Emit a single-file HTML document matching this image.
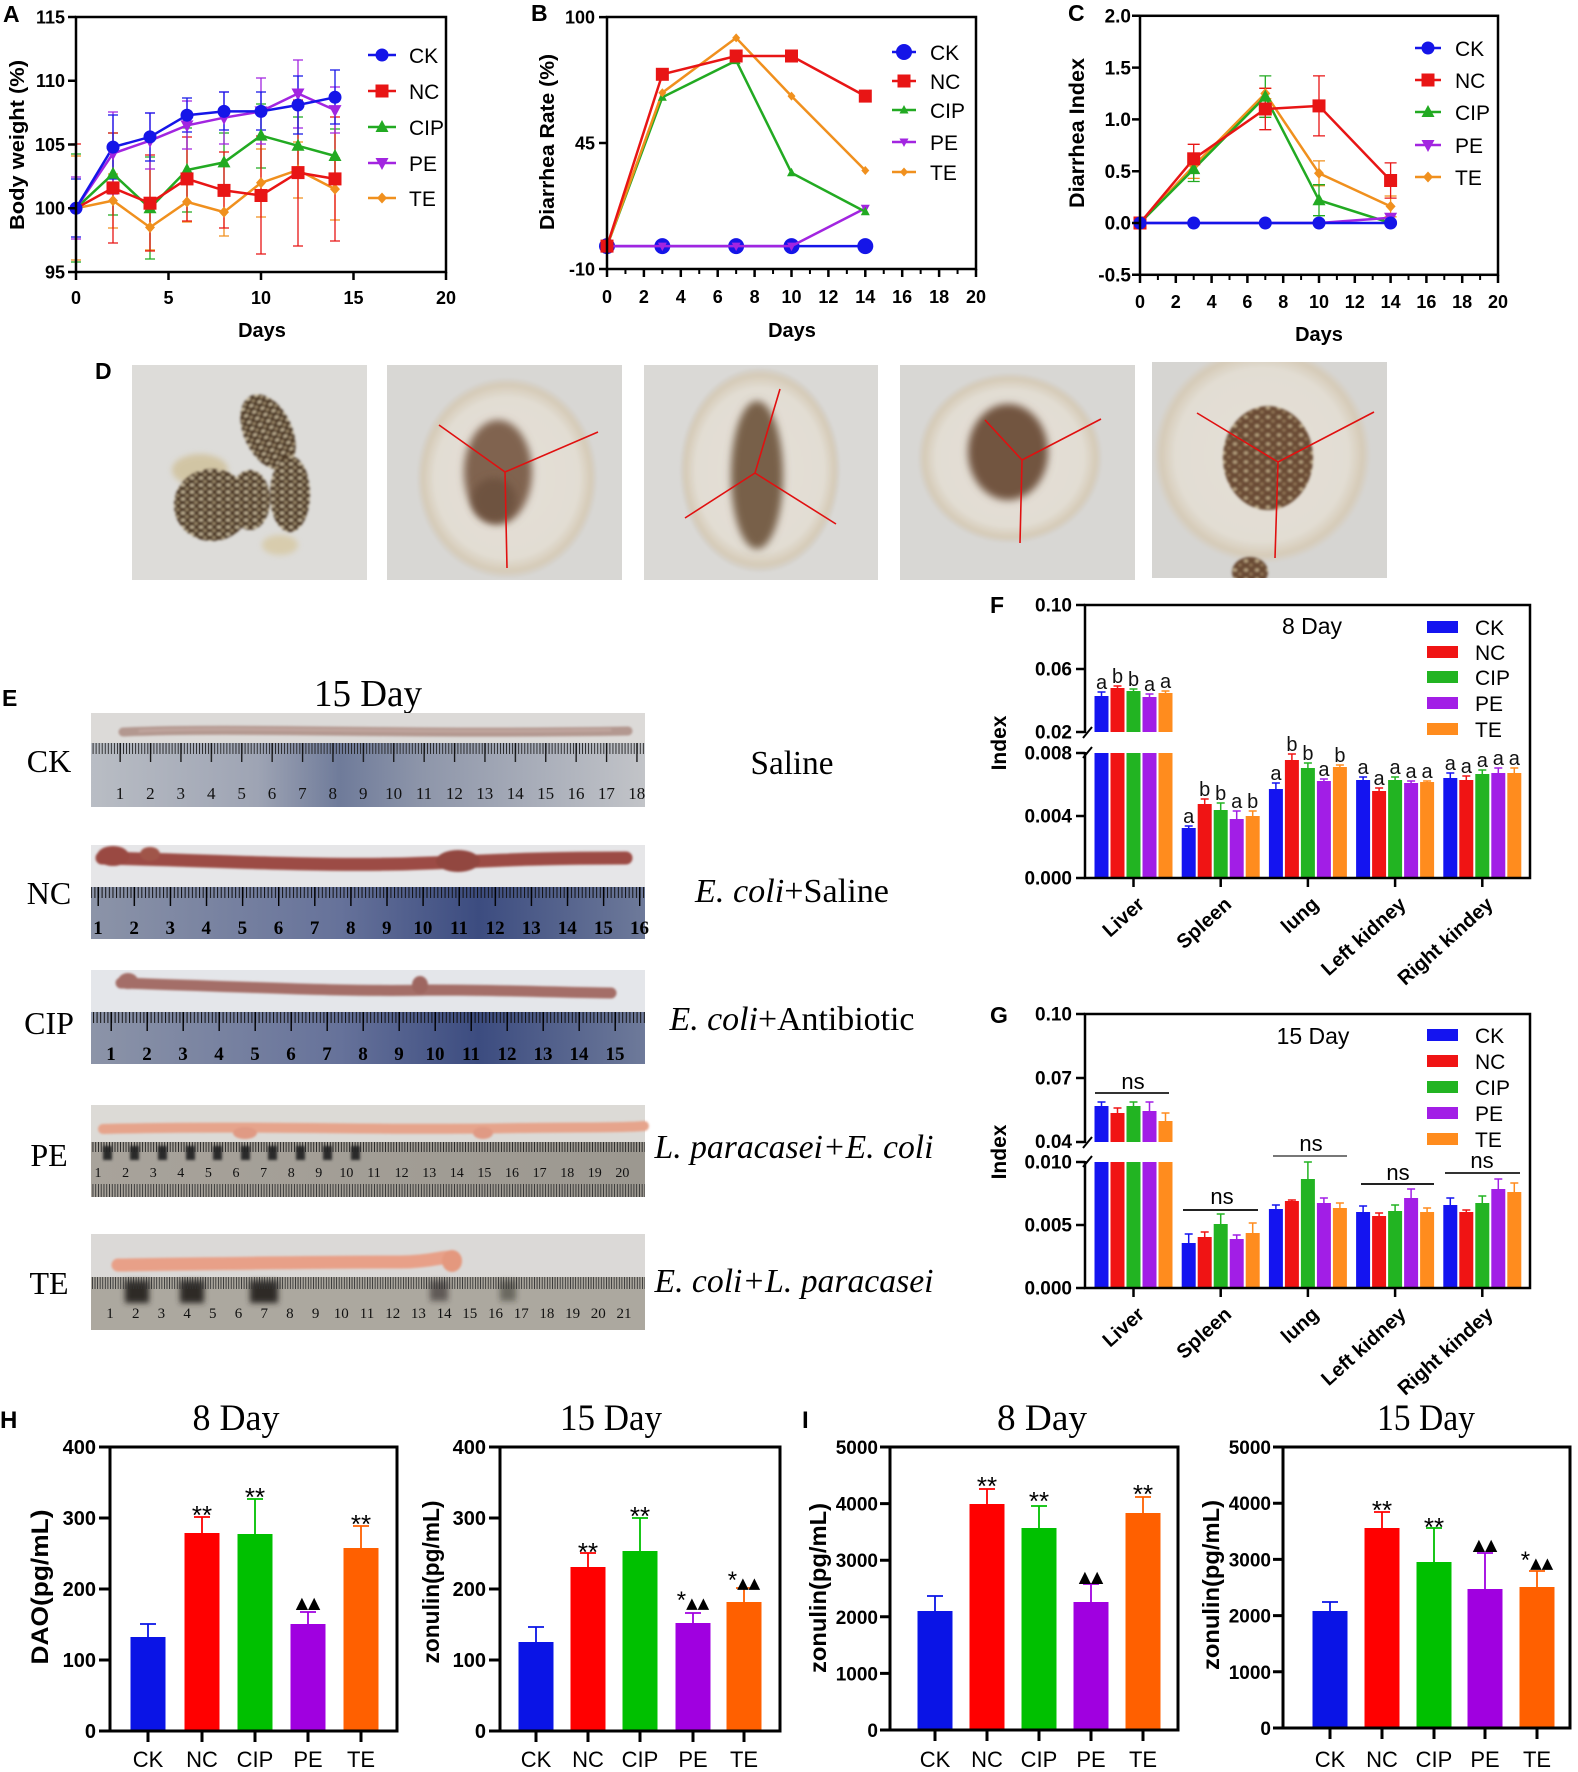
<!DOCTYPE html>
<html><head><meta charset="utf-8">
<style>
html,body{margin:0;padding:0;background:#fff;}
svg{display:block;}
.t{font-family:"Liberation Sans",Arial,sans-serif;}
.b{font-weight:bold;}
.s{font-family:"Liberation Serif","Times New Roman",serif;}
.d{font-family:"DejaVu Sans",sans-serif;}
</style></head>
<body>
<svg width="1578" height="1772" viewBox="0 0 1578 1772" xmlns="http://www.w3.org/2000/svg">
<defs>
<g id="mCK"><circle r="6.5" fill="#1515e8"/></g>
<g id="mCKb"><circle r="8" fill="#1515e8"/></g>
<g id="mNC"><rect x="-6.5" y="-6.5" width="13" height="13" fill="#e81515"/></g>
<g id="mCIP"><polygon points="0,-7 6.5,5 -6.5,5" fill="#22aa22"/></g>
<g id="mPE"><polygon points="0,7 6.5,-5 -6.5,-5" fill="#a225e0"/></g>
<g id="mTE"><polygon points="0,-5.5 5,0 0,5.5 -5,0" fill="#f0901e"/></g>
<g id="mCIPs"><polygon points="0,-5 4.5,3.5 -4.5,3.5" fill="#22aa22"/></g>
<g id="mPEs"><polygon points="0,5 4.5,-3.5 -4.5,-3.5" fill="#a225e0"/></g>
<g id="mTEs"><polygon points="0,-4.5 4,0 0,4.5 -4,0" fill="#f0901e"/></g>
<filter id="bl" x="-30%" y="-30%" width="160%" height="160%"><feGaussianBlur stdDeviation="3"/></filter>
<filter id="bl2" x="-20%" y="-20%" width="140%" height="140%"><feGaussianBlur stdDeviation="1.2"/></filter>
<filter id="bl4" x="-20%" y="-20%" width="140%" height="140%"><feGaussianBlur stdDeviation="4"/></filter>
<filter id="blU" filterUnits="userSpaceOnUse" x="0" y="0" width="1578" height="1772"><feGaussianBlur stdDeviation="1"/></filter>
<pattern id="spk" width="9" height="7" patternUnits="userSpaceOnUse"><rect width="9" height="7" fill="#4a3422"/><ellipse cx="3" cy="2" rx="2.2" ry="1.3" fill="#d8c9a8"/><ellipse cx="7" cy="5.5" rx="1.6" ry="1" fill="#c4b08a"/></pattern>
<pattern id="spk2" width="11" height="9" patternUnits="userSpaceOnUse"><rect width="11" height="9" fill="#6a4c34"/><ellipse cx="3" cy="3" rx="2" ry="1.4" fill="#c9b48e"/><ellipse cx="8" cy="7" rx="1.5" ry="1" fill="#a88c68"/></pattern>
<pattern id="mm1" x="120" y="743" width="3.04" height="64" patternUnits="userSpaceOnUse"><rect width="0.9" height="11" fill="#222"/></pattern>
<pattern id="cm1" x="119.5" y="743" width="30.4" height="64" patternUnits="userSpaceOnUse"><rect width="1.3" height="19" fill="#111"/></pattern>
<pattern id="mm2" x="98" y="887" width="3.61" height="52" patternUnits="userSpaceOnUse"><rect width="1" height="11" fill="#111"/></pattern>
<pattern id="cm2" x="97.5" y="887" width="36.1" height="52" patternUnits="userSpaceOnUse"><rect width="1.4" height="19" fill="#000"/></pattern>
<pattern id="mm3" x="111" y="1012" width="3.6" height="52" patternUnits="userSpaceOnUse"><rect width="1" height="11" fill="#111"/></pattern>
<pattern id="cm3" x="110.5" y="1012" width="36" height="52" patternUnits="userSpaceOnUse"><rect width="1.4" height="19" fill="#000"/></pattern>
<pattern id="mm4" x="98" y="1142" width="2.76" height="55" patternUnits="userSpaceOnUse"><rect width="0.9" height="10" fill="#222"/><rect y="42" width="0.9" height="13" fill="#333"/></pattern>
<pattern id="mm5" x="110" y="1277" width="2.57" height="53" patternUnits="userSpaceOnUse"><rect width="0.9" height="12" fill="#333"/></pattern>
<linearGradient id="r1" x1="0" x2="1" y1="0" y2="0"><stop offset="0" stop-color="#b9bdc4"/><stop offset="0.3" stop-color="#9ea4b4"/><stop offset="0.45" stop-color="#6f7b9a"/><stop offset="0.6" stop-color="#8e96aa"/><stop offset="1" stop-color="#c2c4c8"/></linearGradient>
<linearGradient id="r2" x1="0" x2="1" y1="0" y2="0"><stop offset="0" stop-color="#8c94a8"/><stop offset="0.45" stop-color="#66729a"/><stop offset="0.7" stop-color="#3c4c80"/><stop offset="1" stop-color="#6e7a9a"/></linearGradient>
<linearGradient id="r4" x1="0" x2="1" y1="0" y2="0"><stop offset="0" stop-color="#a8a39b"/><stop offset="1" stop-color="#9c9890"/></linearGradient>
<radialGradient id="halo" cx="0.5" cy="0.5" r="0.5"><stop offset="0" stop-color="#e4dfd6"/><stop offset="0.8" stop-color="#e2ddd3"/><stop offset="0.93" stop-color="#d6cbb8"/><stop offset="1" stop-color="#d6d4d0"/></radialGradient>
</defs>
<rect width="1578" height="1772" fill="#fff"/>

<!-- ================= PANEL A ================= -->
<g class="t">
<text class="b" x="3" y="22" font-size="23">A</text>
<g fill="none" stroke-width="1.3">
<path stroke="#f0901e" d="M76 156V260M71 156H81M71 260H81M113 174V228M108 174H118M108 228H118M150 204V250M145 204H155M145 250H155M187 182V222M182 182H192M182 222H192M224 188V236M219 188H229M219 236H229M261 149V217M256 149H266M256 217H266M298 142V198M293 142H303M293 198H303M335 158V220M330 158H340M330 220H340"/>
<path stroke="#22aa22" d="M76 154V262M71 154H81M71 262H81M113 133V215M108 133H118M108 215H118M150 157V259M145 157H155M145 259H155M187 128V212M182 128H192M182 212H192M224 133V191M219 133H229M219 191H229M261 104V168M256 104H266M256 168H266M298 117V175M293 117H303M293 175H303M335 129V183M330 129H340M330 183H340"/>
<path stroke="#e81515" d="M76 144V272M71 144H81M113 133V243M108 133H118M108 243H118M150 155V251M145 155H155M145 251H155M187 137V221M182 137H192M182 221H192M224 152V228M219 152H229M219 228H229M261 136V254M256 136H266M256 254H266M298 100V246M293 100H303M293 246H303M335 117V241M330 117H340M330 241H340"/>
<path stroke="#a225e0" d="M76 177V239M71 177H81M71 239H81M113 112V194M108 112H118M108 194H118M150 113V169M145 113H155M145 169H155M187 101V149M182 101H192M182 149H192M224 92V144M219 92H229M219 144H229M261 78V144M256 78H266M256 144H266M298 60V128M293 60H303M293 128H303M335 87V133M330 87H340M330 133H340"/>
<path stroke="#1515e8" d="M76 179V237M71 179H81M71 237H81M113 115V179M108 115H118M108 179H118M150 113V161M145 113H155M145 161H155M187 98V132M182 98H192M182 132H192M224 92V130M219 92H229M219 130H229M261 92V130M256 92H266M256 130H266M298 76V134M293 76H303M293 134H303M335 70V124M330 70H340M330 124H340"/>
</g>
<g fill="none" stroke-width="2.5">
<polyline stroke="#f0901e" points="76,208.3 113,200.6 150,227.4 187,201.9 224,212.1 261,182.8 298,170 335,189.1"/>
<polyline stroke="#22aa22" points="76,208.3 113,173.8 150,208.3 187,170 224,162.4 261,135.6 298,145.8 335,156"/>
<polyline stroke="#e81515" points="76,208.3 113,187.9 150,203.2 187,178.9 224,190.4 261,195.5 298,172.6 335,178.9"/>
<polyline stroke="#a225e0" points="76,208.3 113,153.4 150,140.7 187,125.4 224,117.7 261,111.4 298,93.5 335,110.1"/>
<polyline stroke="#1515e8" points="76,208.3 113,147.1 150,136.9 187,115.2 224,111.4 261,111.4 298,105 335,97.3"/>
</g>
<use href="#mTE" x="113" y="200.6"/><use href="#mTE" x="150" y="227.4"/><use href="#mTE" x="187" y="201.9"/><use href="#mTE" x="224" y="212.1"/><use href="#mTE" x="261" y="182.8"/><use href="#mTE" x="298" y="170"/><use href="#mTE" x="335" y="189.1"/>
<use href="#mCIP" x="113" y="173.8"/><use href="#mCIP" x="150" y="208.3"/><use href="#mCIP" x="187" y="170"/><use href="#mCIP" x="224" y="162.4"/><use href="#mCIP" x="261" y="135.6"/><use href="#mCIP" x="298" y="145.8"/><use href="#mCIP" x="335" y="156"/>
<use href="#mNC" x="113" y="187.9"/><use href="#mNC" x="150" y="203.2"/><use href="#mNC" x="187" y="178.9"/><use href="#mNC" x="224" y="190.4"/><use href="#mNC" x="261" y="195.5"/><use href="#mNC" x="298" y="172.6"/><use href="#mNC" x="335" y="178.9"/>
<use href="#mPE" x="113" y="153.4"/><use href="#mPE" x="150" y="140.7"/><use href="#mPE" x="187" y="125.4"/><use href="#mPE" x="224" y="117.7"/><use href="#mPE" x="261" y="111.4"/><use href="#mPE" x="298" y="93.5"/><use href="#mPE" x="335" y="110.1"/>
<use href="#mCK" x="76" y="208.3"/><use href="#mCK" x="113" y="147.1"/><use href="#mCK" x="150" y="136.9"/><use href="#mCK" x="187" y="115.2"/><use href="#mCK" x="224" y="111.4"/><use href="#mCK" x="261" y="111.4"/><use href="#mCK" x="298" y="105"/><use href="#mCK" x="335" y="97.3"/>
<rect x="76" y="17" width="370" height="255" fill="none" stroke="#000" stroke-width="2.5"/>
<path stroke="#000" stroke-width="2.5" d="M68 17H76M68 80.75H76M68 144.5H76M68 208.25H76M68 272H76M76 272V280M168.5 272V280M261 272V280M353.5 272V280M446 272V280"/>
<g class="b" font-size="18" text-anchor="end"><text x="65" y="23.5">115</text><text x="65" y="87">110</text><text x="65" y="151">105</text><text x="65" y="214.5">100</text><text x="65" y="278.5">95</text></g>
<g class="b" font-size="18" text-anchor="middle"><text x="76" y="304">0</text><text x="168.5" y="304">5</text><text x="261" y="304">10</text><text x="353.5" y="304">15</text><text x="446" y="304">20</text></g>
<text class="b" x="262" y="337" font-size="20" text-anchor="middle">Days</text>
<text class="b" transform="translate(17,145) rotate(-90)" x="0" y="7" font-size="20" text-anchor="middle" textLength="170" lengthAdjust="spacingAndGlyphs">Body weight (%)</text>
<g stroke-width="2.5"><line x1="368" y1="55" x2="396" y2="55" stroke="#1515e8"/><line x1="368" y1="91" x2="396" y2="91" stroke="#e81515"/><line x1="368" y1="127" x2="396" y2="127" stroke="#22aa22"/><line x1="368" y1="163" x2="396" y2="163" stroke="#a225e0"/><line x1="368" y1="198" x2="396" y2="198" stroke="#f0901e"/></g>
<use href="#mCK" x="382" y="55"/><use href="#mNC" x="382" y="91"/><use href="#mCIP" x="382" y="127"/><use href="#mPE" x="382" y="163"/><use href="#mTE" x="382" y="198"/>
<g font-size="21"><text x="409" y="63">CK</text><text x="409" y="99">NC</text><text x="409" y="135">CIP</text><text x="409" y="171">PE</text><text x="409" y="206">TE</text></g>
</g>

<!-- ================= PANEL B ================= -->
<g class="t">
<text class="b" x="531" y="21" font-size="23">B</text>
<g fill="none" stroke-width="2.5">
<polyline stroke="#1515e8" points="607,246.1 662.35,246.1 736.15,246.1 791.5,246.1 865.3,246.1"/>
</g>
<use href="#mCKb" x="607" y="246.1"/><use href="#mCKb" x="662.35" y="246.1"/><use href="#mCKb" x="736.15" y="246.1"/><use href="#mCKb" x="791.5" y="246.1"/><use href="#mCKb" x="865.3" y="246.1"/>
<g fill="none" stroke-width="2.5">
<polyline stroke="#a225e0" points="607,246.1 662.35,246.1 736.15,246.1 791.5,246.1 865.3,208.3"/>
<polyline stroke="#22aa22" points="607,246.1 662.35,97.25 736.15,60.6 791.5,172.8 865.3,211.75"/>
<polyline stroke="#f0901e" points="607,246.1 662.35,92.7 736.15,37.9 791.5,96.1 865.3,170.5"/>
<polyline stroke="#e81515" points="607,246.1 662.35,74.3 736.15,56 791.5,56 865.3,96.1"/>
</g>
<use href="#mPEs" x="662.35" y="246.1"/><use href="#mPEs" x="736.15" y="246.1"/><use href="#mPEs" x="791.5" y="246.1"/><use href="#mPEs" x="865.3" y="208.3"/>
<use href="#mCIPs" x="662.35" y="97.25"/><use href="#mCIPs" x="736.15" y="60.6"/><use href="#mCIPs" x="791.5" y="172.8"/><use href="#mCIPs" x="865.3" y="211.75"/>
<use href="#mTEs" x="662.35" y="92.7"/><use href="#mTEs" x="736.15" y="37.9"/><use href="#mTEs" x="791.5" y="96.1"/><use href="#mTEs" x="865.3" y="170.5"/>
<use href="#mNC" x="607" y="246.1"/><use href="#mNC" x="662.35" y="74.3"/><use href="#mNC" x="736.15" y="56"/><use href="#mNC" x="791.5" y="56"/><use href="#mNC" x="865.3" y="96.1"/>
<rect x="607" y="17" width="369" height="252" fill="none" stroke="#000" stroke-width="2.5"/>
<path stroke="#000" stroke-width="2.5" d="M599 17.1H607M599 143H607M599 269H607M607 269V277M643.9 269V277M680.8 269V277M717.7 269V277M754.6 269V277M791.5 269V277M828.4 269V277M865.3 269V277M902.2 269V277M939.1 269V277M976 269V277"/>
<path stroke="#000" stroke-width="2" d="M625.45 269V274M662.35 269V274M699.25 269V274M736.15 269V274M773.05 269V274M809.95 269V274M846.85 269V274M883.75 269V274M920.65 269V274M957.55 269V274"/>
<g class="b" font-size="18" text-anchor="end"><text x="595" y="23.6">100</text><text x="595" y="149.5">45</text><text x="595" y="275.5">-10</text></g>
<g class="b" font-size="18" text-anchor="middle"><text x="607" y="303">0</text><text x="643.9" y="303">2</text><text x="680.8" y="303">4</text><text x="717.7" y="303">6</text><text x="754.6" y="303">8</text><text x="791.5" y="303">10</text><text x="828.4" y="303">12</text><text x="865.3" y="303">14</text><text x="902.2" y="303">16</text><text x="939.1" y="303">18</text><text x="976" y="303">20</text></g>
<text class="b" x="792" y="337" font-size="20" text-anchor="middle">Days</text>
<text class="b" transform="translate(547,142) rotate(-90)" x="0" y="7" font-size="20" text-anchor="middle" textLength="176" lengthAdjust="spacingAndGlyphs">Diarrhea Rate (%)</text>
<g stroke-width="2.5"><line x1="892" y1="52" x2="916" y2="52" stroke="#1515e8"/><line x1="892" y1="81" x2="916" y2="81" stroke="#e81515"/><line x1="892" y1="110" x2="916" y2="110" stroke="#22aa22"/><line x1="892" y1="142" x2="916" y2="142" stroke="#a225e0"/><line x1="892" y1="172" x2="916" y2="172" stroke="#f0901e"/></g>
<use href="#mCKb" x="904" y="52"/><use href="#mNC" x="904" y="81"/><use href="#mCIPs" x="904" y="110"/><use href="#mPEs" x="904" y="142"/><use href="#mTEs" x="904" y="172"/>
<g font-size="21"><text x="930" y="60">CK</text><text x="930" y="89">NC</text><text x="930" y="118">CIP</text><text x="930" y="150">PE</text><text x="930" y="180">TE</text></g>
</g>

<!-- ================= PANEL C ================= -->
<g class="t">
<text class="b" x="1068" y="21" font-size="23">C</text>
<g fill="none" stroke-width="1.3">
<path stroke="#f0901e" d="M1193.7 153.6V178.4M1187.7 153.6H1199.7M1187.7 178.4H1199.7M1265.3 88.3V98.7M1259.3 88.3H1271.3M1259.3 98.7H1271.3M1319 160.9V185.7M1313 160.9H1325M1313 185.7H1325M1390.6 196V216.8M1384.6 196H1396.6M1384.6 216.8H1396.6"/>
<path stroke="#22aa22" d="M1193.7 156.7V181.5M1187.7 156.7H1199.7M1187.7 181.5H1199.7M1265.3 75.9V117.3M1259.3 75.9H1271.3M1259.3 117.3H1271.3M1319 184.7V215.7M1313 184.7H1325M1313 215.7H1325"/>
<path stroke="#e81515" d="M1193.7 144.3V173.3M1187.7 144.3H1199.7M1187.7 173.3H1199.7M1265.3 88.3V129.7M1259.3 88.3H1271.3M1259.3 129.7H1271.3M1319 75.9V135.9M1313 75.9H1325M1313 135.9H1325M1390.6 162.9V198.1M1384.6 162.9H1396.6M1384.6 198.1H1396.6"/>
</g>
<g fill="none" stroke-width="2.5">
<polyline stroke="#f0901e" points="1140,223 1193.7,166 1265.3,93.5 1319,173.3 1390.6,206.4"/>
<polyline stroke="#22aa22" points="1140,223 1193.7,169.1 1265.3,96.6 1319,200.2 1390.6,223"/>
<polyline stroke="#a225e0" points="1140,223 1193.7,223 1265.3,223 1319,223 1390.6,217.8"/>
<polyline stroke="#e81515" points="1140,223 1193.7,158.8 1265.3,109 1319,105.9 1390.6,180.5"/>
<polyline stroke="#1515e8" points="1140,223 1193.7,223 1265.3,223 1319,223 1390.6,223"/>
</g>
<use href="#mTE" x="1193.7" y="166"/><use href="#mTE" x="1265.3" y="93.5"/><use href="#mTE" x="1319" y="173.3"/><use href="#mTE" x="1390.6" y="206.4"/>
<use href="#mCIP" x="1193.7" y="169.1"/><use href="#mCIP" x="1265.3" y="96.6"/><use href="#mCIP" x="1319" y="200.2"/>
<use href="#mPE" x="1390.6" y="217.8"/>
<use href="#mNC" x="1140" y="223"/><use href="#mNC" x="1193.7" y="158.8"/><use href="#mNC" x="1265.3" y="109"/><use href="#mNC" x="1319" y="105.9"/><use href="#mNC" x="1390.6" y="180.5"/>
<use href="#mCK" x="1140" y="223"/><use href="#mCK" x="1193.7" y="223"/><use href="#mCK" x="1265.3" y="223"/><use href="#mCK" x="1319" y="223"/><use href="#mCK" x="1390.6" y="223"/>
<rect x="1140" y="15.8" width="358" height="259" fill="none" stroke="#000" stroke-width="2.5"/>
<path stroke="#000" stroke-width="2.5" d="M1132 15.8H1140M1132 67.6H1140M1132 119.4H1140M1132 171.2H1140M1132 223H1140M1132 274.8H1140M1140 274.8V283M1175.8 274.8V283M1211.6 274.8V283M1247.4 274.8V283M1283.2 274.8V283M1319 274.8V283M1354.8 274.8V283M1390.6 274.8V283M1426.4 274.8V283M1462.2 274.8V283M1498 274.8V283"/>
<path stroke="#000" stroke-width="2" d="M1157.9 274.8V280M1193.7 274.8V280M1229.5 274.8V280M1265.3 274.8V280M1301.1 274.8V280M1336.9 274.8V280M1372.7 274.8V280M1408.5 274.8V280M1444.3 274.8V280M1480.1 274.8V280"/>
<g class="b" font-size="19" text-anchor="end"><text x="1131" y="22.5">2.0</text><text x="1131" y="74.3">1.5</text><text x="1131" y="126.1">1.0</text><text x="1131" y="177.9">0.5</text><text x="1131" y="229.7">0.0</text><text x="1131" y="281.5">-0.5</text></g>
<g class="b" font-size="18" text-anchor="middle"><text x="1140" y="308">0</text><text x="1175.8" y="308">2</text><text x="1211.6" y="308">4</text><text x="1247.4" y="308">6</text><text x="1283.2" y="308">8</text><text x="1319" y="308">10</text><text x="1354.8" y="308">12</text><text x="1390.6" y="308">14</text><text x="1426.4" y="308">16</text><text x="1462.2" y="308">18</text><text x="1498" y="308">20</text></g>
<text class="b" x="1319" y="341" font-size="20" text-anchor="middle">Days</text>
<text class="b" transform="translate(1077,133) rotate(-90)" x="0" y="7" font-size="21" text-anchor="middle" textLength="150" lengthAdjust="spacingAndGlyphs">Diarrhea Index</text>
<g stroke-width="2.5"><line x1="1415" y1="48" x2="1441" y2="48" stroke="#1515e8"/><line x1="1415" y1="80" x2="1441" y2="80" stroke="#e81515"/><line x1="1415" y1="112" x2="1441" y2="112" stroke="#22aa22"/><line x1="1415" y1="145" x2="1441" y2="145" stroke="#a225e0"/><line x1="1415" y1="177" x2="1441" y2="177" stroke="#f0901e"/></g>
<use href="#mCK" x="1428" y="48"/><use href="#mNC" x="1428" y="80"/><use href="#mCIP" x="1428" y="112"/><use href="#mPE" x="1428" y="145"/><use href="#mTE" x="1428" y="177"/>
<g font-size="21"><text x="1455" y="56">CK</text><text x="1455" y="88">NC</text><text x="1455" y="120">CIP</text><text x="1455" y="153">PE</text><text x="1455" y="185">TE</text></g>
</g>

<!-- ================= PANEL D ================= -->
<text class="t b" x="95" y="379" font-size="23">D</text>
<svg x="132" y="365" width="235" height="215" viewBox="132 365 235 215">
<rect x="132" y="365" width="235" height="215" fill="#dddcd9"/>
<ellipse cx="200" cy="470" rx="28" ry="16" fill="#c9b37a" opacity="0.55" filter="url(#bl)"/>
<ellipse cx="280" cy="545" rx="18" ry="10" fill="#d4c08a" opacity="0.55" filter="url(#bl)"/>
<g filter="url(#bl2)">
<ellipse cx="268" cy="432" rx="24" ry="40" transform="rotate(-25 268 432)" fill="url(#spk)"/>
<ellipse cx="212" cy="505" rx="38" ry="36" fill="url(#spk)"/>
<ellipse cx="250" cy="500" rx="20" ry="30" fill="url(#spk)"/>
<ellipse cx="290" cy="494" rx="20" ry="38" fill="url(#spk)"/>
</g>
</svg>
<svg x="387" y="365" width="235" height="215" viewBox="387 365 235 215">
<rect x="387" y="365" width="235" height="215" fill="#d8d7d4"/>
<ellipse cx="507" cy="478" rx="90" ry="100" fill="url(#halo)" filter="url(#bl2)"/>
<ellipse cx="498" cy="472" rx="34" ry="52" fill="#806450" filter="url(#bl4)"/>
<ellipse cx="494" cy="500" rx="22" ry="22" fill="#6e5240" filter="url(#bl4)"/>
<path d="M505 472L439 425M505 472L598 432M505 472L507 568" stroke="#e01010" stroke-width="1.6" fill="none"/>
</svg>
<svg x="644" y="365" width="234" height="215" viewBox="644 365 234 215">
<rect x="644" y="365" width="234" height="215" fill="#dad9d6"/>
<ellipse cx="760" cy="470" rx="80" ry="102" fill="url(#halo)" filter="url(#bl2)"/>
<ellipse cx="757" cy="475" rx="26" ry="74" fill="#786048" filter="url(#bl4)"/>
<path d="M755 473L780 389M755 473L685 518M755 473L836 524" stroke="#e01010" stroke-width="1.6" fill="none"/>
</svg>
<svg x="900" y="365" width="235" height="215" viewBox="900 365 235 215">
<rect x="900" y="365" width="235" height="215" fill="#d8d7d4"/>
<ellipse cx="1010" cy="458" rx="92" ry="85" fill="url(#halo)" filter="url(#bl2)"/>
<ellipse cx="1008" cy="452" rx="40" ry="48" fill="#725440" filter="url(#bl4)"/>
<path d="M1022 460L985 420M1022 460L1101 419M1022 460L1020 543" stroke="#e01010" stroke-width="1.6" fill="none"/>
</svg>
<svg x="1152" y="362" width="235" height="216" viewBox="1152 362 235 216">
<rect x="1152" y="362" width="235" height="216" fill="#d6d5d2"/>
<ellipse cx="1262" cy="455" rx="108" ry="108" fill="url(#halo)" filter="url(#bl2)"/>
<ellipse cx="1268" cy="458" rx="45" ry="52" fill="url(#spk2)" filter="url(#bl2)"/>
<ellipse cx="1250" cy="572" rx="18" ry="15" fill="url(#spk2)" filter="url(#bl2)"/>
<path d="M1278 462L1197 413M1278 462L1374 412M1278 462L1275 558" stroke="#e01010" stroke-width="1.6" fill="none"/>
</svg>

<!-- ================= PANEL E ================= -->
<text class="t b" x="2" y="706" font-size="23">E</text>
<text class="s" x="368" y="706" font-size="38" text-anchor="middle" textLength="108" lengthAdjust="spacingAndGlyphs">15 Day</text>
<rect x="91" y="713" width="554" height="30" fill="#dcdad8"/>
<g filter="url(#blU)">
<path d="M123 732C250 727 400 735 628 731" stroke="#b39890" stroke-width="9" stroke-linecap="round" fill="none"/>
<path d="M140 731C250 726 400 734 610 730" stroke="#c4aaa2" stroke-width="3" stroke-linecap="round" fill="none" opacity="0.7"/>
</g>
<rect x="91" y="743" width="554" height="64" fill="url(#r1)"/>
<rect x="91" y="743" width="554" height="20" fill="url(#mm1)"/>
<rect x="91" y="743" width="554" height="20" fill="url(#cm1)"/>
<text class="s" font-size="17" fill="#111" text-anchor="middle" y="799"><tspan x="120">1</tspan><tspan x="150.4">2</tspan><tspan x="180.8">3</tspan><tspan x="211.2">4</tspan><tspan x="241.6">5</tspan><tspan x="272">6</tspan><tspan x="302.4">7</tspan><tspan x="332.8">8</tspan><tspan x="363.2">9</tspan><tspan x="393.6">10</tspan><tspan x="424">11</tspan><tspan x="454.4">12</tspan><tspan x="484.8">13</tspan><tspan x="515.2">14</tspan><tspan x="545.6">15</tspan><tspan x="576">16</tspan><tspan x="606.4">17</tspan><tspan x="636.8">18</tspan></text>
<rect x="91" y="845" width="554" height="42" fill="#e6e6e8"/>
<g filter="url(#blU)">
<path d="M102 858C200 860 300 866 400 864C470 862 520 858 626 858" stroke="#9c4c44" stroke-width="13" stroke-linecap="round" fill="none"/>
<ellipse cx="113" cy="856" rx="16" ry="10" fill="#9a4a42"/>
<ellipse cx="458" cy="861" rx="22" ry="11" fill="#924640"/>
<ellipse cx="150" cy="854" rx="10" ry="7" fill="#a0544a"/>
</g>
<rect x="91" y="887" width="554" height="52" fill="url(#r2)"/>
<rect x="91" y="887" width="554" height="20" fill="url(#mm2)"/>
<rect x="91" y="887" width="554" height="20" fill="url(#cm2)"/>
<text class="s b" font-size="19" fill="#000" text-anchor="middle" y="934"><tspan x="98">1</tspan><tspan x="134.1">2</tspan><tspan x="170.2">3</tspan><tspan x="206.3">4</tspan><tspan x="242.4">5</tspan><tspan x="278.5">6</tspan><tspan x="314.6">7</tspan><tspan x="350.7">8</tspan><tspan x="386.8">9</tspan><tspan x="422.9">10</tspan><tspan x="459">11</tspan><tspan x="495.1">12</tspan><tspan x="531.2">13</tspan><tspan x="567.3">14</tspan><tspan x="603.4">15</tspan><tspan x="639.5">16</tspan></text>
<rect x="91" y="970" width="554" height="42" fill="#e4e6ea"/>
<g filter="url(#blU)">
<path d="M121 983C250 987 350 992 430 990C520 990 570 993 611 993" stroke="#a46e68" stroke-width="11" stroke-linecap="round" fill="none"/>
<ellipse cx="128" cy="981" rx="10" ry="8" fill="#a46e68"/>
<ellipse cx="420" cy="985" rx="8" ry="9" fill="#9e6660"/>
</g>
<rect x="91" y="1012" width="554" height="52" fill="url(#r2)"/>
<rect x="91" y="1012" width="554" height="20" fill="url(#mm3)"/>
<rect x="91" y="1012" width="554" height="20" fill="url(#cm3)"/>
<text class="s b" font-size="19" fill="#000" text-anchor="middle" y="1060"><tspan x="111">1</tspan><tspan x="147">2</tspan><tspan x="183">3</tspan><tspan x="219">4</tspan><tspan x="255">5</tspan><tspan x="291">6</tspan><tspan x="327">7</tspan><tspan x="363">8</tspan><tspan x="399">9</tspan><tspan x="435">10</tspan><tspan x="471">11</tspan><tspan x="507">12</tspan><tspan x="543">13</tspan><tspan x="579">14</tspan><tspan x="615">15</tspan></text>
<rect x="91" y="1105" width="554" height="37" fill="#dcdad6"/>
<g filter="url(#blU)">
<path d="M103 1129C250 1125 400 1131 520 1128C580 1127 620 1128 644 1126" stroke="#e6a48c" stroke-width="10" stroke-linecap="round" fill="none"/>
<ellipse cx="245" cy="1133" rx="12" ry="6" fill="#e09a84"/>
<ellipse cx="483" cy="1133" rx="10" ry="6" fill="#e09a84"/>
</g>
<rect x="91" y="1142" width="554" height="55" fill="url(#r4)"/>
<g fill="#2a2a2a" filter="url(#bl2)"><rect x="103" y="1146" width="9" height="14"/><rect x="130" y="1146" width="9" height="14"/><rect x="158" y="1146" width="9" height="14"/><rect x="186" y="1146" width="9" height="14"/><rect x="213" y="1146" width="9" height="14"/><rect x="241" y="1146" width="9" height="14"/><rect x="268" y="1146" width="9" height="14"/><rect x="296" y="1146" width="9" height="14"/><rect x="323" y="1146" width="9" height="14"/><rect x="351" y="1146" width="9" height="14"/></g>
<rect x="91" y="1142" width="554" height="55" fill="url(#mm4)"/>
<text class="s" font-size="14" fill="#111" text-anchor="middle" y="1177"><tspan x="98">1</tspan><tspan x="125.6">2</tspan><tspan x="153.2">3</tspan><tspan x="180.8">4</tspan><tspan x="208.4">5</tspan><tspan x="236">6</tspan><tspan x="263.6">7</tspan><tspan x="291.2">8</tspan><tspan x="318.8">9</tspan><tspan x="346.4">10</tspan><tspan x="374">11</tspan><tspan x="401.6">12</tspan><tspan x="429.2">13</tspan><tspan x="456.8">14</tspan><tspan x="484.4">15</tspan><tspan x="512">16</tspan><tspan x="539.6">17</tspan><tspan x="567.2">18</tspan><tspan x="594.8">19</tspan><tspan x="622.4">20</tspan></text>
<rect x="91" y="1234" width="554" height="43" fill="#dbd9d7"/>
<g filter="url(#blU)">
<path d="M118 1265C200 1264 300 1262 400 1262C430 1262 445 1256 452 1257" stroke="#e8a088" stroke-width="13" stroke-linecap="round" fill="none"/>
<ellipse cx="452" cy="1261" rx="10" ry="11" fill="#e4987e"/>
</g>
<rect x="91" y="1277" width="554" height="53" fill="#aca89f"/>
<g fill="#2e2a26" filter="url(#bl)"><rect x="125" y="1281" width="24" height="22"/><rect x="180" y="1281" width="24" height="22"/><rect x="250" y="1281" width="28" height="22"/><rect x="430" y="1281" width="18" height="20" opacity="0.6"/><rect x="500" y="1281" width="16" height="20" opacity="0.5"/></g>
<rect x="91" y="1277" width="554" height="20" fill="url(#mm5)"/>
<text class="s" font-size="15" fill="#111" text-anchor="middle" y="1318"><tspan x="110">1</tspan><tspan x="135.7">2</tspan><tspan x="161.4">3</tspan><tspan x="187.1">4</tspan><tspan x="212.8">5</tspan><tspan x="238.5">6</tspan><tspan x="264.2">7</tspan><tspan x="289.9">8</tspan><tspan x="315.6">9</tspan><tspan x="341.3">10</tspan><tspan x="367">11</tspan><tspan x="392.7">12</tspan><tspan x="418.4">13</tspan><tspan x="444.1">14</tspan><tspan x="469.8">15</tspan><tspan x="495.5">16</tspan><tspan x="521.2">17</tspan><tspan x="546.9">18</tspan><tspan x="572.6">19</tspan><tspan x="598.3">20</tspan><tspan x="624">21</tspan></text>
<g class="s" font-size="32" text-anchor="middle"><text x="49" y="772">CK</text><text x="49" y="904">NC</text><text x="49" y="1034">CIP</text><text x="49" y="1166">PE</text><text x="49" y="1294">TE</text></g>
<g class="s" font-size="34" text-anchor="middle">
<text x="792" y="774" textLength="83" lengthAdjust="spacingAndGlyphs">Saline</text>
<text x="792" y="902" textLength="194" lengthAdjust="spacingAndGlyphs"><tspan font-style="italic">E. coli</tspan>+Saline</text>
<text x="792" y="1030" textLength="245" lengthAdjust="spacingAndGlyphs"><tspan font-style="italic">E. coli</tspan>+Antibiotic</text>
<text x="794" y="1158" textLength="279" lengthAdjust="spacingAndGlyphs" font-style="italic">L. paracasei+E. coli</text>
<text x="794" y="1292" textLength="279" lengthAdjust="spacingAndGlyphs" font-style="italic">E. coli+L. paracasei</text>
</g>

<!-- ================= PANEL F ================= -->
<g class="t">
<text class="b" x="990" y="613" font-size="23">F</text>
<text x="1312" y="634" font-size="23" text-anchor="middle">8 Day</text>
<g fill="#1414f0"><rect x="1094.5" y="696" width="14" height="36"/><rect x="1094.5" y="753" width="14" height="125"/><rect x="1181.7" y="828" width="14" height="50"/><rect x="1268.9" y="789" width="14" height="89"/><rect x="1356.1" y="780" width="14" height="98"/><rect x="1443.3" y="778" width="14" height="100"/></g>
<g fill="#f01414"><rect x="1110.5" y="688" width="14" height="44"/><rect x="1110.5" y="753" width="14" height="125"/><rect x="1197.7" y="804" width="14" height="74"/><rect x="1284.9" y="760" width="14" height="118"/><rect x="1372.1" y="791" width="14" height="87"/><rect x="1459.3" y="780" width="14" height="98"/></g>
<g fill="#22b422"><rect x="1126.5" y="691" width="14" height="41"/><rect x="1126.5" y="753" width="14" height="125"/><rect x="1213.7" y="810" width="14" height="68"/><rect x="1300.9" y="768" width="14" height="110"/><rect x="1388.1" y="780" width="14" height="98"/><rect x="1475.3" y="774" width="14" height="104"/></g>
<g fill="#a21ee6"><rect x="1142.5" y="697" width="14" height="35"/><rect x="1142.5" y="753" width="14" height="125"/><rect x="1229.7" y="819" width="14" height="59"/><rect x="1316.9" y="781" width="14" height="97"/><rect x="1404.1" y="783" width="14" height="95"/><rect x="1491.3" y="773" width="14" height="105"/></g>
<g fill="#ff8c1e"><rect x="1158.5" y="693" width="14" height="39"/><rect x="1158.5" y="753" width="14" height="125"/><rect x="1245.7" y="816" width="14" height="62"/><rect x="1332.9" y="767" width="14" height="111"/><rect x="1420.1" y="782" width="14" height="96"/><rect x="1507.3" y="773" width="14" height="105"/></g>
<g fill="none" stroke-width="1.5">
<path stroke="#1414f0" d="M1101.5 696V692M1097.5 692H1105.5M1188.7 828V826M1184.7 826H1192.7M1275.9 789V783M1271.9 783H1279.9M1363.1 780V777M1359.1 777H1367.1M1450.3 778V773M1446.3 773H1454.3"/>
<path stroke="#f01414" d="M1117.5 688V686M1113.5 686H1121.5M1204.7 804V799M1200.7 799H1208.7M1291.9 760V754M1287.9 754H1295.9M1379.1 791V788M1375.1 788H1383.1M1466.3 780V776M1462.3 776H1470.3"/>
<path stroke="#22b422" d="M1133.5 691V689M1129.5 689H1137.5M1220.7 810V803M1216.7 803H1224.7M1307.9 768V763M1303.9 763H1311.9M1395.1 780V777M1391.1 777H1399.1M1482.3 774V770M1478.3 770H1486.3"/>
<path stroke="#a21ee6" d="M1149.5 697V694M1145.5 694H1153.5M1236.7 819V811M1232.7 811H1240.7M1323.9 781V779M1319.9 779H1327.9M1411.1 783V781M1407.1 781H1415.1M1498.3 773V768M1494.3 768H1502.3"/>
<path stroke="#ff8c1e" d="M1165.5 693V691M1161.5 691H1169.5M1252.7 816V811M1248.7 811H1256.7M1339.9 767V765M1335.9 765H1343.9M1427.1 782V781M1423.1 781H1431.1M1514.3 773V768M1510.3 768H1518.3"/>
</g>
<g font-size="20" text-anchor="middle" fill="#111">
<text x="1101.5" y="689">a</text><text x="1117.5" y="683">b</text><text x="1133.5" y="686">b</text><text x="1149.5" y="691">a</text><text x="1165.5" y="688">a</text>
<text x="1188.7" y="823">a</text><text x="1204.7" y="796">b</text><text x="1220.7" y="800">b</text><text x="1236.7" y="808">a</text><text x="1252.7" y="808">b</text>
<text x="1275.9" y="780">a</text><text x="1291.9" y="751">b</text><text x="1307.9" y="760">b</text><text x="1323.9" y="776">a</text><text x="1339.9" y="762">b</text>
<text x="1363.1" y="774">a</text><text x="1379.1" y="785">a</text><text x="1395.1" y="774">a</text><text x="1411.1" y="778">a</text><text x="1427.1" y="778">a</text>
<text x="1450.3" y="770">a</text><text x="1466.3" y="773">a</text><text x="1482.3" y="767">a</text><text x="1498.3" y="765">a</text><text x="1514.3" y="765">a</text>
</g>
<path fill="none" stroke="#000" stroke-width="2.5" d="M1085 733V605H1530V878H1085V752"/>
<path fill="none" stroke="#000" stroke-width="2" d="M1083 738L1092 727M1083 758L1092 747"/>
<path stroke="#000" stroke-width="2.5" d="M1076 605H1085M1076 669H1085M1076 732H1085M1076 753H1085M1076 816H1085M1076 878H1085M1133.5 878V887M1220.7 878V887M1307.9 878V887M1395.1 878V887M1482.3 878V887"/>
<g class="b" font-size="19" text-anchor="end"><text x="1072" y="611.5">0.10</text><text x="1072" y="675.5">0.06</text><text x="1072" y="738.5">0.02</text><text x="1072" y="759.5">0.008</text><text x="1072" y="822.5">0.004</text><text x="1072" y="884.5">0.000</text></g>
<text class="b" transform="translate(999,743) rotate(-90)" x="0" y="7" font-size="21" text-anchor="middle">Index</text>
<g class="b" font-size="20" text-anchor="end">
<text transform="translate(1145.5,906) rotate(-42)">Liver</text>
<text transform="translate(1232.7,906) rotate(-42)">Spleen</text>
<text transform="translate(1319.9,906) rotate(-42)">lung</text>
<text transform="translate(1407.1,906) rotate(-42)">Left kidney</text>
<text transform="translate(1494.3,906) rotate(-42)">Right kindey</text>
</g>
<rect x="1427" y="621" width="31" height="12" fill="#1414f0"/><rect x="1427" y="646" width="31" height="12" fill="#f01414"/><rect x="1427" y="671" width="31" height="12" fill="#22b422"/><rect x="1427" y="697" width="31" height="12" fill="#a21ee6"/><rect x="1427" y="723" width="31" height="12" fill="#ff8c1e"/>
<g font-size="21"><text x="1475" y="635">CK</text><text x="1475" y="660">NC</text><text x="1475" y="685">CIP</text><text x="1475" y="711">PE</text><text x="1475" y="737">TE</text></g>
</g>

<!-- ================= PANEL G ================= -->
<g class="t">
<text class="b" x="990" y="1023" font-size="23">G</text>
<text x="1313" y="1044" font-size="23" text-anchor="middle">15 Day</text>
<g fill="#1414f0"><rect x="1094.5" y="1106" width="14" height="36"/><rect x="1094.5" y="1162" width="14" height="126"/><rect x="1181.7" y="1243" width="14" height="45"/><rect x="1268.9" y="1209" width="14" height="79"/><rect x="1356.1" y="1212" width="14" height="76"/><rect x="1443.3" y="1205" width="14" height="83"/></g>
<g fill="#f01414"><rect x="1110.5" y="1113" width="14" height="29"/><rect x="1110.5" y="1162" width="14" height="126"/><rect x="1197.7" y="1237" width="14" height="51"/><rect x="1284.9" y="1201" width="14" height="87"/><rect x="1372.1" y="1216" width="14" height="72"/><rect x="1459.3" y="1212" width="14" height="76"/></g>
<g fill="#22b422"><rect x="1126.5" y="1106" width="14" height="36"/><rect x="1126.5" y="1162" width="14" height="126"/><rect x="1213.7" y="1224" width="14" height="64"/><rect x="1300.9" y="1179" width="14" height="109"/><rect x="1388.1" y="1211" width="14" height="77"/><rect x="1475.3" y="1203" width="14" height="85"/></g>
<g fill="#a21ee6"><rect x="1142.5" y="1111" width="14" height="31"/><rect x="1142.5" y="1162" width="14" height="126"/><rect x="1229.7" y="1239" width="14" height="49"/><rect x="1316.9" y="1203" width="14" height="85"/><rect x="1404.1" y="1198" width="14" height="90"/><rect x="1491.3" y="1189" width="14" height="99"/></g>
<g fill="#ff8c1e"><rect x="1158.5" y="1121" width="14" height="21"/><rect x="1158.5" y="1162" width="14" height="126"/><rect x="1245.7" y="1233" width="14" height="55"/><rect x="1332.9" y="1208" width="14" height="80"/><rect x="1420.1" y="1212" width="14" height="76"/><rect x="1507.3" y="1192" width="14" height="96"/></g>
<g fill="none" stroke-width="1.5">
<path stroke="#1414f0" d="M1101.5 1106V1102M1097.5 1102H1105.5M1188.7 1243V1234M1184.7 1234H1192.7M1275.9 1209V1205M1271.9 1205H1279.9M1363.1 1212V1206M1359.1 1206H1367.1M1450.3 1205V1198M1446.3 1198H1454.3"/>
<path stroke="#f01414" d="M1117.5 1113V1108M1113.5 1108H1121.5M1204.7 1237V1232M1200.7 1232H1208.7M1291.9 1201V1200M1287.9 1200H1295.9M1379.1 1216V1213M1375.1 1213H1383.1M1466.3 1212V1210M1462.3 1210H1470.3"/>
<path stroke="#22b422" d="M1133.5 1106V1102M1129.5 1102H1137.5M1220.7 1224V1214M1216.7 1214H1224.7M1307.9 1179V1162M1303.9 1162H1311.9M1395.1 1211V1205M1391.1 1205H1399.1M1482.3 1203V1196M1478.3 1196H1486.3"/>
<path stroke="#a21ee6" d="M1149.5 1111V1102M1145.5 1102H1153.5M1236.7 1239V1235M1232.7 1235H1240.7M1323.9 1203V1198M1319.9 1198H1327.9M1411.1 1198V1189M1407.1 1189H1415.1M1498.3 1189V1179M1494.3 1179H1502.3"/>
<path stroke="#ff8c1e" d="M1165.5 1121V1113M1161.5 1113H1169.5M1252.7 1233V1223M1248.7 1223H1256.7M1339.9 1208V1203M1335.9 1203H1343.9M1427.1 1212V1208M1423.1 1208H1431.1M1514.3 1192V1183M1510.3 1183H1518.3"/>
</g>
<g stroke-width="2" fill="none"><path stroke="#333" d="M1095 1093H1169"/><path stroke="#222" d="M1183 1210H1258"/><path stroke="#777" d="M1273 1156H1347"/><path stroke="#222" d="M1361 1184H1434"/><path stroke="#333" d="M1445 1173H1520"/></g>
<g font-size="22" text-anchor="middle"><text x="1133" y="1089">ns</text><text x="1222" y="1204">ns</text><text x="1311" y="1151">ns</text><text x="1398" y="1180">ns</text><text x="1482" y="1168">ns</text></g>
<path fill="none" stroke="#000" stroke-width="2.5" d="M1085 1143V1014H1530V1288H1085V1161"/>
<path fill="none" stroke="#000" stroke-width="2" d="M1083 1148L1092 1137M1083 1167L1092 1156"/>
<path stroke="#000" stroke-width="2.5" d="M1076 1014H1085M1076 1078H1085M1076 1142H1085M1076 1162H1085M1076 1225H1085M1076 1288H1085M1133.5 1288V1297M1220.7 1288V1297M1307.9 1288V1297M1395.1 1288V1297M1482.3 1288V1297"/>
<g class="b" font-size="19" text-anchor="end"><text x="1072" y="1020.5">0.10</text><text x="1072" y="1084.5">0.07</text><text x="1072" y="1148">0.04</text><text x="1072" y="1168.5">0.010</text><text x="1072" y="1231.5">0.005</text><text x="1072" y="1294.5">0.000</text></g>
<text class="b" transform="translate(999,1152) rotate(-90)" x="0" y="7" font-size="21" text-anchor="middle">Index</text>
<g class="b" font-size="20" text-anchor="end">
<text transform="translate(1145.5,1316) rotate(-42)">Liver</text>
<text transform="translate(1232.7,1316) rotate(-42)">Spleen</text>
<text transform="translate(1319.9,1316) rotate(-42)">lung</text>
<text transform="translate(1407.1,1316) rotate(-42)">Left kidney</text>
<text transform="translate(1494.3,1316) rotate(-42)">Right kindey</text>
</g>
<rect x="1427" y="1029" width="31" height="12" fill="#1414f0"/><rect x="1427" y="1055" width="31" height="12" fill="#f01414"/><rect x="1427" y="1081" width="31" height="12" fill="#22b422"/><rect x="1427" y="1107" width="31" height="12" fill="#a21ee6"/><rect x="1427" y="1133" width="31" height="12" fill="#ff8c1e"/>
<g font-size="21"><text x="1475" y="1043">CK</text><text x="1475" y="1069">NC</text><text x="1475" y="1095">CIP</text><text x="1475" y="1121">PE</text><text x="1475" y="1147">TE</text></g>
</g>

<!-- ================= PANEL H ================= -->
<g class="t">
<text class="b" x="0" y="1428" font-size="24">H</text>
<text class="s" x="236" y="1430" font-size="37" text-anchor="middle" textLength="87" lengthAdjust="spacingAndGlyphs">8 Day</text>
<text class="s" x="611" y="1430" font-size="37" text-anchor="middle" textLength="102" lengthAdjust="spacingAndGlyphs">15 Day</text>
<rect x="130.5" y="1637" width="35" height="94" fill="#0a14e6"/>
<rect x="184.5" y="1533" width="35" height="198" fill="#ff0000"/>
<rect x="237.5" y="1534" width="35" height="197" fill="#00c000"/>
<rect x="290.5" y="1624" width="35" height="107" fill="#a000e0"/>
<rect x="343.5" y="1548" width="35" height="183" fill="#ff6000"/>
<g fill="none" stroke-width="1.8">
<path stroke="#0a14e6" d="M148 1637V1624M140 1624H156"/>
<path stroke="#ff0000" d="M202 1533V1517M194 1517H210"/>
<path stroke="#00c000" d="M255 1534V1499M247 1499H263"/>
<path stroke="#a000e0" d="M308 1624V1612M300 1612H316"/>
<path stroke="#ff6000" d="M361 1548V1526M353 1526H369"/>
</g>
<g font-size="26" text-anchor="middle"><text x="202" y="1524">**</text><text x="255" y="1506">**</text><text x="361" y="1533">**</text></g>
<text class="d" x="308" y="1608" font-size="16" text-anchor="middle">▲▲</text>
<rect x="110" y="1447" width="287" height="284" fill="none" stroke="#000" stroke-width="3"/>
<path stroke="#000" stroke-width="3" d="M99 1447H110M99 1518H110M99 1589H110M99 1660H110M99 1731H110M148 1731V1742M202 1731V1742M255 1731V1742M308 1731V1742M361 1731V1742"/>
<g class="b" font-size="20" text-anchor="end"><text x="96" y="1454">400</text><text x="96" y="1525">300</text><text x="96" y="1596">200</text><text x="96" y="1667">100</text><text x="96" y="1738">0</text></g>
<g font-size="22" text-anchor="middle"><text x="148" y="1767">CK</text><text x="202" y="1767">NC</text><text x="255" y="1767">CIP</text><text x="308" y="1767">PE</text><text x="361" y="1767">TE</text></g>
<text class="b" transform="translate(40,1587) rotate(-90)" x="0" y="8" font-size="24" text-anchor="middle" textLength="155" lengthAdjust="spacingAndGlyphs">DAO(pg/mL)</text>
<rect x="518.5" y="1642" width="35" height="89" fill="#0a14e6"/>
<rect x="570.5" y="1567" width="35" height="164" fill="#ff0000"/>
<rect x="622.5" y="1551" width="35" height="180" fill="#00c000"/>
<rect x="675.5" y="1623" width="35" height="108" fill="#a000e0"/>
<rect x="726.5" y="1602" width="35" height="129" fill="#ff6000"/>
<g fill="none" stroke-width="1.8">
<path stroke="#0a14e6" d="M536 1642V1627M528 1627H544"/>
<path stroke="#ff0000" d="M588 1567V1553M580 1553H596"/>
<path stroke="#00c000" d="M640 1551V1518M632 1518H648"/>
<path stroke="#a000e0" d="M693 1623V1613M685 1613H701"/>
<path stroke="#ff6000" d="M744 1602V1588M736 1588H752"/>
</g>
<g font-size="26" text-anchor="middle"><text x="588" y="1561">**</text><text x="640" y="1525">**</text></g>
<text x="693" y="1608" text-anchor="middle"><tspan font-size="24">*</tspan><tspan class="d" font-size="15">▲▲</tspan></text>
<text x="744" y="1588" text-anchor="middle"><tspan font-size="24">*</tspan><tspan class="d" font-size="15">▲▲</tspan></text>
<rect x="500" y="1447" width="280" height="284" fill="none" stroke="#000" stroke-width="3"/>
<path stroke="#000" stroke-width="3" d="M489 1447H500M489 1518H500M489 1589H500M489 1660H500M489 1731H500M536 1731V1742M588 1731V1742M640 1731V1742M693 1731V1742M744 1731V1742"/>
<g class="b" font-size="20" text-anchor="end"><text x="486" y="1454">400</text><text x="486" y="1525">300</text><text x="486" y="1596">200</text><text x="486" y="1667">100</text><text x="486" y="1738">0</text></g>
<g font-size="22" text-anchor="middle"><text x="536" y="1767">CK</text><text x="588" y="1767">NC</text><text x="640" y="1767">CIP</text><text x="693" y="1767">PE</text><text x="744" y="1767">TE</text></g>
<text class="b" transform="translate(431,1582) rotate(-90)" x="0" y="8" font-size="23" text-anchor="middle" textLength="163" lengthAdjust="spacingAndGlyphs">zonulin(pg/mL)</text>
</g>

<!-- ================= PANEL I ================= -->
<g class="t">
<text class="b" x="802" y="1428" font-size="24">I</text>
<text class="s" x="1042" y="1430" font-size="37" text-anchor="middle" textLength="90" lengthAdjust="spacingAndGlyphs">8 Day</text>
<text class="s" x="1426" y="1430" font-size="37" text-anchor="middle" textLength="98" lengthAdjust="spacingAndGlyphs">15 Day</text>
<rect x="917.5" y="1611" width="35" height="119" fill="#0a14e6"/>
<rect x="969.5" y="1504" width="35" height="226" fill="#ff0000"/>
<rect x="1021.5" y="1528" width="35" height="202" fill="#00c000"/>
<rect x="1073.5" y="1602" width="35" height="128" fill="#a000e0"/>
<rect x="1125.5" y="1513" width="35" height="217" fill="#ff6000"/>
<g fill="none" stroke-width="1.8">
<path stroke="#0a14e6" d="M935 1611V1596M927 1596H943"/>
<path stroke="#ff0000" d="M987 1504V1489M979 1489H995"/>
<path stroke="#00c000" d="M1039 1528V1506M1031 1506H1047"/>
<path stroke="#a000e0" d="M1091 1602V1584M1083 1584H1099"/>
<path stroke="#ff6000" d="M1143 1513V1497M1135 1497H1151"/>
</g>
<g font-size="26" text-anchor="middle"><text x="987" y="1495">**</text><text x="1039" y="1510">**</text><text x="1143" y="1503">**</text></g>
<text class="d" x="1091" y="1582" font-size="16" text-anchor="middle">▲▲</text>
<rect x="890" y="1447" width="288" height="283" fill="none" stroke="#000" stroke-width="3"/>
<path stroke="#000" stroke-width="3" d="M880 1447H890M880 1503.6H890M880 1560.2H890M880 1616.8H890M880 1673.4H890M880 1730H890M935 1730V1741M987 1730V1741M1039 1730V1741M1091 1730V1741M1143 1730V1741"/>
<g class="b" font-size="19" text-anchor="end"><text x="878" y="1454">5000</text><text x="878" y="1510.6">4000</text><text x="878" y="1567.2">3000</text><text x="878" y="1623.8">2000</text><text x="878" y="1680.4">1000</text><text x="878" y="1737">0</text></g>
<g font-size="22" text-anchor="middle"><text x="935" y="1767">CK</text><text x="987" y="1767">NC</text><text x="1039" y="1767">CIP</text><text x="1091" y="1767">PE</text><text x="1143" y="1767">TE</text></g>
<text class="b" transform="translate(818,1588) rotate(-90)" x="0" y="8" font-size="23" text-anchor="middle" textLength="170" lengthAdjust="spacingAndGlyphs">zonulin(pg/mL)</text>
<rect x="1312.5" y="1611" width="35" height="117" fill="#0a14e6"/>
<rect x="1364.5" y="1528" width="35" height="200" fill="#ff0000"/>
<rect x="1416.5" y="1562" width="35" height="166" fill="#00c000"/>
<rect x="1467.5" y="1589" width="35" height="139" fill="#a000e0"/>
<rect x="1519.5" y="1587" width="35" height="141" fill="#ff6000"/>
<g fill="none" stroke-width="1.8">
<path stroke="#0a14e6" d="M1330 1611V1602M1322 1602H1338"/>
<path stroke="#ff0000" d="M1382 1528V1512M1374 1512H1390"/>
<path stroke="#00c000" d="M1434 1562V1528M1426 1528H1442"/>
<path stroke="#a000e0" d="M1485 1589V1553M1477 1553H1493"/>
<path stroke="#ff6000" d="M1537 1587V1571M1529 1571H1545"/>
</g>
<g font-size="26" text-anchor="middle"><text x="1382" y="1519">**</text><text x="1434" y="1536">**</text></g>
<text class="d" x="1485" y="1550" font-size="16" text-anchor="middle">▲▲</text>
<text x="1537" y="1568" text-anchor="middle"><tspan font-size="24">*</tspan><tspan class="d" font-size="15">▲▲</tspan></text>
<rect x="1283" y="1447" width="287" height="281" fill="none" stroke="#000" stroke-width="3"/>
<path stroke="#000" stroke-width="3" d="M1273 1447H1283M1273 1503.2H1283M1273 1559.4H1283M1273 1615.6H1283M1273 1671.8H1283M1273 1728H1283M1330 1728V1739M1382 1728V1739M1434 1728V1739M1485 1728V1739M1537 1728V1739"/>
<g class="b" font-size="19" text-anchor="end"><text x="1271" y="1454">5000</text><text x="1271" y="1510.2">4000</text><text x="1271" y="1566.4">3000</text><text x="1271" y="1622.6">2000</text><text x="1271" y="1678.8">1000</text><text x="1271" y="1735">0</text></g>
<g font-size="22" text-anchor="middle"><text x="1330" y="1767">CK</text><text x="1382" y="1767">NC</text><text x="1434" y="1767">CIP</text><text x="1485" y="1767">PE</text><text x="1537" y="1767">TE</text></g>
<text class="b" transform="translate(1211,1585) rotate(-90)" x="0" y="8" font-size="23" text-anchor="middle" textLength="170" lengthAdjust="spacingAndGlyphs">zonulin(pg/mL)</text>
</g>
</svg>
</body></html>
